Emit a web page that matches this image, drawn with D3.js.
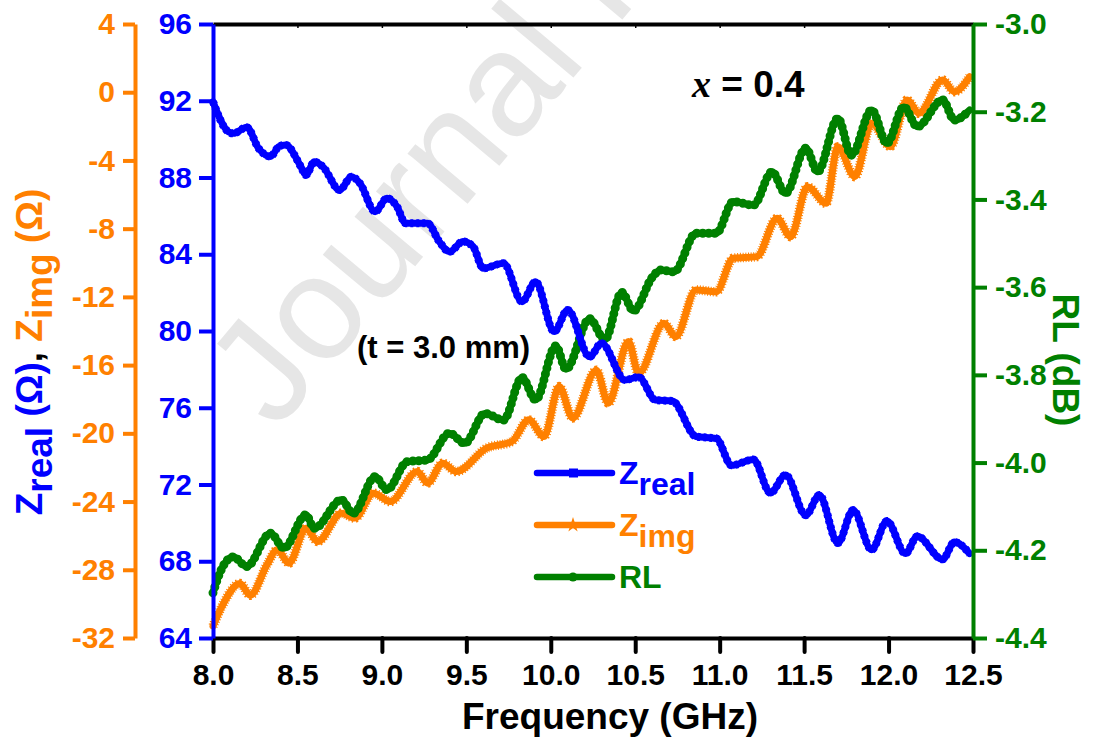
<!DOCTYPE html>
<html><head><meta charset="utf-8">
<script src="https://cdn.jsdelivr.net/npm/d3@7"></script>
<style>
body{margin:0;background:#fff}
svg{display:block;font-family:"Liberation Sans",Arial,sans-serif;font-weight:bold}
</style>
</head><body>
<svg id="chart" width="1093" height="740"></svg>
<script>
// ---- data ----
const freqTicks = [8.0, 8.5, 9.0, 9.5, 10.0, 10.5, 11.0, 11.5, 12.0, 12.5];
const realTicks = [64, 68, 72, 76, 80, 84, 88, 92, 96];
const imgTicks = [-32, -28, -24, -20, -16, -12, -8, -4, 0, 4];
const rlTicks = [-4.4, -4.2, -4.0, -3.8, -3.6, -3.4, -3.2, -3.0];

const realFreq = [8.00, 8.09, 8.12, 8.20, 8.27, 8.34, 8.39, 8.43, 8.52, 8.55, 8.60, 8.65, 8.75, 8.82, 8.87, 8.96, 9.03, 9.09, 9.14, 9.27, 9.34, 9.40, 9.48, 9.54, 9.60, 9.72, 9.83, 9.91, 10.02, 10.10, 10.23, 10.30, 10.44, 10.52, 10.62, 10.72, 10.86, 10.98, 11.07, 11.20, 11.30, 11.39, 11.51, 11.59, 11.70, 11.79, 11.90, 11.99, 12.10, 12.17, 12.32, 12.39, 12.48];
const realValues = [91.95, 90.39, 90.30, 90.62, 89.52, 89.09, 89.61, 89.70, 88.57, 88.13, 88.82, 88.57, 87.35, 88.04, 87.70, 86.22, 86.92, 86.48, 85.61, 85.61, 84.66, 84.13, 84.66, 84.40, 83.27, 83.53, 81.53, 82.57, 79.97, 81.10, 78.66, 79.36, 77.45, 77.60, 76.40, 76.35, 74.50, 74.40, 73.00, 73.30, 71.56, 72.50, 70.40, 71.45, 68.95, 70.67, 68.60, 70.10, 68.40, 69.30, 68.10, 69.00, 68.40];

const imgFreq = [8.00, 8.05, 8.16, 8.22, 8.32, 8.38, 8.45, 8.55, 8.62, 8.76, 8.84, 8.95, 9.05, 9.21, 9.27, 9.36, 9.44, 9.62, 9.77, 9.87, 9.96, 10.05, 10.13, 10.27, 10.34, 10.46, 10.52, 10.67, 10.74, 10.86, 10.98, 11.08, 11.22, 11.34, 11.42, 11.52, 11.63, 11.70, 11.80, 11.90, 12.01, 12.11, 12.18, 12.32, 12.39, 12.48];
const imgValues = [-31.3, -30.2, -28.8, -29.5, -27.7, -26.83, -27.61, -25.56, -26.34, -24.68, -24.97, -23.51, -24.0, -22.24, -22.92, -21.75, -22.24, -20.87, -20.48, -19.21, -20.19, -17.26, -19.1, -16.3, -18.23, -14.62, -16.48, -13.55, -14.33, -11.59, -11.7, -9.73, -9.64, -7.39, -8.47, -5.54, -6.51, -3.19, -4.95, -1.82, -3.19, -0.45, -1.23, 0.72, 0.03, 0.91];

const rlFreq = [8.00, 8.04, 8.12, 8.20, 8.34, 8.42, 8.55, 8.60, 8.76, 8.83, 8.96, 9.03, 9.15, 9.27, 9.40, 9.49, 9.61, 9.72, 9.83, 9.91, 10.03, 10.09, 10.23, 10.32, 10.42, 10.49, 10.60, 10.65, 10.73, 10.86, 10.98, 11.08, 11.20, 11.31, 11.39, 11.51, 11.58, 11.70, 11.78, 11.90, 11.99, 12.09, 12.17, 12.32, 12.39, 12.48];
const rlValues = [-4.297, -4.252, -4.215, -4.237, -4.161, -4.195, -4.119, -4.150, -4.085, -4.116, -4.032, -4.062, -3.998, -3.994, -3.933, -3.956, -3.888, -3.903, -3.806, -3.857, -3.734, -3.787, -3.672, -3.720, -3.612, -3.654, -3.578, -3.561, -3.565, -3.477, -3.477, -3.405, -3.413, -3.337, -3.386, -3.283, -3.337, -3.215, -3.299, -3.196, -3.272, -3.189, -3.234, -3.173, -3.219, -3.196];

const legendLabels = [["Z", "real"], ["Z", "img"], ["RL", ""]];

// ---- styling ----
const BLUE = "#0000ff", ORANGE = "#ff8000", GREEN = "#008000";
const FONT = "'Liberation Sans', Arial, sans-serif";
const svg = d3.select("#chart");
const L = 213, R = 973, T = 24, B = 638;

const x = d3.scaleLinear().domain([8, 12.5]).range([L, R]);
const yReal = d3.scaleLinear().domain([64, 96]).range([B, T]);
const yImg = d3.scaleLinear().domain([-32, 4]).range([B, T]);
const yRL = d3.scaleLinear().domain([-4.4, -3.0]).range([B, T]);

// watermark (runs off the top edge, as in the reference)
svg.append("text")
  .attr("transform", `translate(276,432) rotate(-50)`)
  .attr("font-family", FONT)
  .attr("font-weight", "normal")
  .attr("font-size", 148)
  .attr("fill", "#e6e6e6")
  .text("Journal Pre-proof");

function styleAxis(g, color, width, fs) {
  g.select(".domain").attr("stroke", color).attr("stroke-width", width);
  g.selectAll(".tick line").attr("stroke", color).attr("stroke-width", width);
  g.selectAll(".tick text").attr("fill", color).attr("font-size", fs)
    .attr("font-weight", "bold").attr("font-family", FONT);
}

// top axis (black, small inward ticks)
const gTop = svg.append("g").attr("transform", `translate(0,${T})`)
  .call(d3.axisTop(x).tickValues(freqTicks).tickSize(-4).tickSizeOuter(0).tickFormat(""));
styleAxis(gTop, "#000", 4, 30);
gTop.selectAll(".tick line").attr("stroke-width", 1.5);

// bottom axis
const gBot = svg.append("g").attr("transform", `translate(0,${B})`)
  .call(d3.axisBottom(x).tickValues(freqTicks).tickSize(14).tickSizeOuter(0).tickPadding(12)
    .tickFormat(d => d.toFixed(1)));
styleAxis(gBot, "#000", 4, 30);
gBot.selectAll(".tick line").attr("stroke-linecap", "round");

// data lines
const line = (xs, ys, yScale) => d3.line()
  .x((d, i) => x(xs[i])).y((d, i) => yScale(ys[i]))
  .curve(d3.curveMonotoneX)(ys);

const plot = svg.append("g");
function drawSeries(d, color, fuzzDash, fuzzW, cap) {
  plot.append("path").attr("d", d).attr("fill", "none").attr("stroke", color)
    .attr("stroke-width", fuzzW).attr("stroke-dasharray", fuzzDash)
    .attr("stroke-linecap", cap).attr("stroke-linejoin", "round");
  plot.append("path").attr("d", d).attr("fill", "none").attr("stroke", color)
    .attr("stroke-width", 7).attr("stroke-linejoin", "round").attr("stroke-linecap", "round");
}
drawSeries(line(imgFreq, imgValues, yImg), ORANGE, "1 1.7", 9.5, "butt");
drawSeries(line(rlFreq, rlValues, yRL), GREEN, "0 6", 9, "round");
drawSeries(line(realFreq, realValues, yReal), BLUE, "3 3", 8, "butt");

// left blue axis
const gReal = svg.append("g").attr("transform", `translate(${L},0)`)
  .call(d3.axisLeft(yReal).tickValues(realTicks).tickSize(14).tickSizeOuter(0).tickPadding(7)
    .tickFormat(d => String(d)));
styleAxis(gReal, BLUE, 4, 30);

// orange axis
const gImg = svg.append("g").attr("transform", `translate(135,0)`)
  .call(d3.axisLeft(yImg).tickValues(imgTicks).tickSize(12).tickSizeOuter(0).tickPadding(8)
    .tickFormat(d => String(d)));
styleAxis(gImg, ORANGE, 4, 30);

// right green axis
const gRL = svg.append("g").attr("transform", `translate(${R},0)`)
  .call(d3.axisRight(yRL).tickValues(rlTicks).tickSize(14).tickSizeOuter(0).tickPadding(8)
    .tickFormat(d => d.toFixed(1)));
styleAxis(gRL, GREEN, 4, 30);

// axis titles
svg.append("text").attr("x", 610).attr("y", 729)
  .attr("text-anchor", "middle").attr("font-size", 37).attr("fill", "#000")
  .text("Frequency (GHz)");

const lt = svg.append("text").attr("transform", "translate(42,352) rotate(-90)")
  .attr("text-anchor", "middle").attr("font-size", 37);
lt.append("tspan").attr("fill", BLUE).text("Z");
lt.append("tspan").attr("fill", BLUE).attr("dy", 10).text("real");
lt.append("tspan").attr("fill", BLUE).attr("dy", -10).text(" (Ω)");
lt.append("tspan").attr("fill", "#000").text(",");
lt.append("tspan").attr("fill", ORANGE).text(" Z");
lt.append("tspan").attr("fill", ORANGE).attr("dy", 10).text("img");
lt.append("tspan").attr("fill", ORANGE).attr("dy", -10).text(" (Ω)");

svg.append("text").attr("transform", "translate(1053,360) rotate(90)")
  .attr("text-anchor", "middle").attr("font-size", 37).attr("fill", GREEN)
  .text("RL (dB)");

// annotations
const ann = svg.append("text").attr("x", 692).attr("y", 97).attr("font-size", 37).attr("fill", "#000");
ann.append("tspan").attr("font-family", "'Liberation Serif', 'Times New Roman', serif")
  .attr("font-style", "italic").attr("font-size", 38).text("x");
ann.append("tspan").text(" = 0.4");

svg.append("text").attr("x", 357).attr("y", 358).attr("font-size", 31).attr("fill", "#000")
  .text("(t = 3.0 mm)");

// legend
const legColors = [BLUE, ORANGE, GREEN];
const legY = [473, 525, 577];
legendLabels.forEach((lab, i) => {
  const g = svg.append("g");
  g.append("line").attr("x1", 537).attr("x2", 612).attr("y1", legY[i]).attr("y2", legY[i])
    .attr("stroke", legColors[i]).attr("stroke-width", 6.5).attr("stroke-linecap", "round");
  if (i === 0) g.append("rect").attr("x", 569).attr("y", legY[i] - 4.5).attr("width", 9).attr("height", 9).attr("fill", BLUE);
  if (i === 1) g.append("path").attr("d", d3.symbol(d3.symbolStar, 70)()).attr("transform", `translate(573,${legY[i]})`).attr("fill", ORANGE);
  if (i === 2) g.append("circle").attr("cx", 573).attr("cy", legY[i]).attr("r", 4.5).attr("fill", GREEN);
  const t = g.append("text").attr("x", 619).attr("y", legY[i] + 11).attr("font-size", 32).attr("fill", legColors[i]);
  t.append("tspan").text(lab[0]);
  if (lab[1]) t.append("tspan").attr("dy", 11).text(lab[1]);
});
</script>
</body></html>
